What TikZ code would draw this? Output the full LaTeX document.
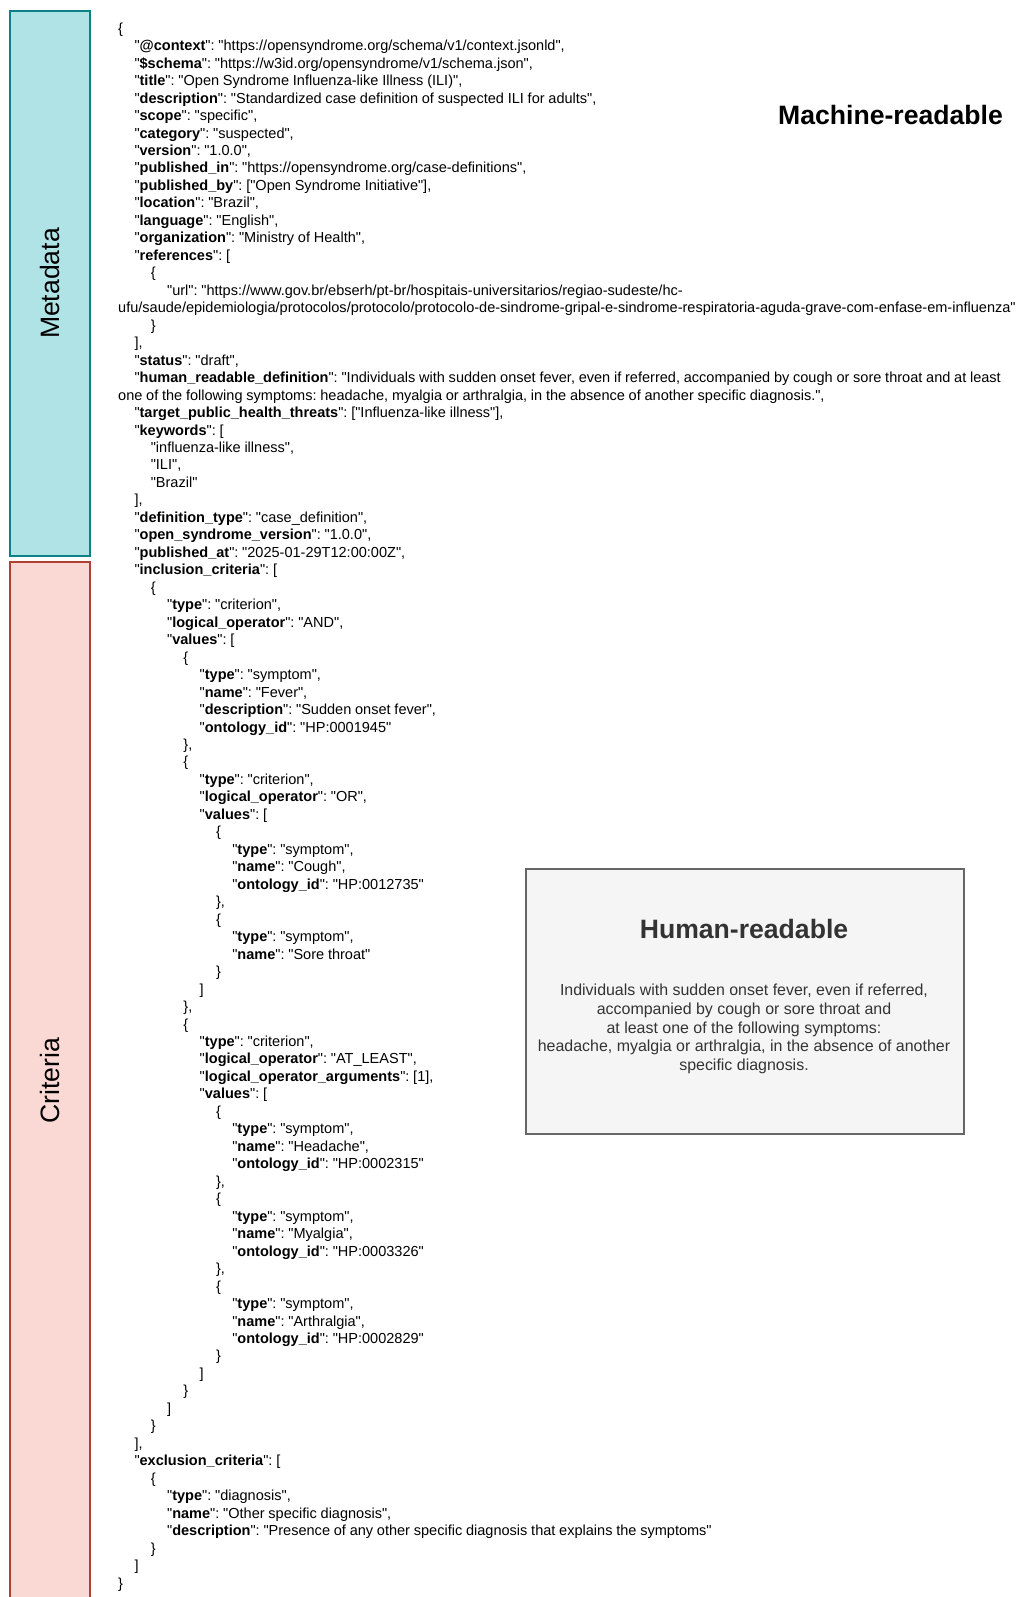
\documentclass[tikz,border=0pt]{standalone}
\usepackage{fontspec}
\setmainfont{Liberation Sans}[Ligatures=TeXOff]
\usepackage{xcolor}
\definecolor{MetaFill}{HTML}{B0E3E6}
\definecolor{MetaLine}{HTML}{0E8088}
\definecolor{CritFill}{HTML}{FAD9D5}
\definecolor{CritLine}{HTML}{AE4132}
\definecolor{HumanFill}{HTML}{F5F5F5}
\definecolor{HumanLine}{HTML}{666666}
\definecolor{HumanText}{HTML}{333333}
\usetikzlibrary{positioning}
\frenchspacing

\newlength{\jsonindent}
\setlength{\jsonindent}{16.3pt}
\newcommand{\jkey}[1]{"\textbf{#1}"}
\newcommand{\lvl}[1]{\hspace*{#1\jsonindent}}

\tikzset{
  sectionbox/.style={draw, line width=1.2pt, rotate=90, minimum height=80pt,
    inner sep=0pt, font=\fontsize{26.6}{32}\selectfont},
  jsontext/.style={text width=1010pt, align=left, inner sep=0pt,
    font=\fontsize{14.53}{17.47}\selectfont},
  headline/.style={font=\fontsize{26.6}{32}\selectfont\bfseries, inner sep=0pt}
}

\begin{document}
\begin{tikzpicture}[x=1pt, y=-1pt]
    \useasboundingbox (0,0) rectangle (1018,1597);
    \begin{scope}
        \clip (0,0) rectangle (1018,1597);
        % side bands
        \node[sectionbox, fill=MetaFill, draw=MetaLine, minimum width=545pt] (metadata) at (50,283.5) {Metadata};
        \node[sectionbox, fill=CritFill, draw=CritLine, minimum width=1038pt] (criteria) at (50,1081) {Criteria};
    \end{scope}

    \node[headline] (machine) at (890.5,115) {Machine-readable};

    % the json document
    \node[jsontext, anchor=north west] (json) at (118,20.8) {%
\setlength{\spaceskip}{3.78pt}\strut\{\\
\lvl1\jkey{@context}: "https://opensyndrome.org/schema/v1/context.jsonld",\\
\lvl1\jkey{\$schema}: "https://w3id.org/opensyndrome/v1/schema.json",\\
\lvl1\jkey{title}: "Open Syndrome Influenza-like Illness (ILI)",\\
\lvl1\jkey{description}: "Standardized case definition of suspected ILI for adults",\\
\lvl1\jkey{scope}: "specific",\\
\lvl1\jkey{category}: "suspected",\\
\lvl1\jkey{version}: "1.0.0",\\
\lvl1\jkey{published\_in}: "https://opensyndrome.org/case-definitions",\\
\lvl1\jkey{published\_by}: ["Open Syndrome Initiative"],\\
\lvl1\jkey{location}: "Brazil",\\
\lvl1\jkey{language}: "English",\\
\lvl1\jkey{organization}: "Ministry of Health",\\
\lvl1\jkey{references}: [\\
\lvl2\{\\
\lvl3"url": "https://www.gov.br/ebserh/pt-br/hospitais-universitarios/regiao-sudeste/hc-\\
ufu/saude/epidemiologia/protocolos/protocolo/protocolo-de-sindrome-gripal-e-sindrome-respiratoria-aguda-grave-com-enfase-em-influenza"\\
\lvl2\}\\
\lvl1],\\
\lvl1\jkey{status}: "draft",\\
\lvl1\jkey{human\_readable\_definition}: "Individuals with sudden onset fever, even if referred, accompanied by cough or sore throat and at least\\
one of the following symptoms: headache, myalgia or arthralgia, in the absence of another specific diagnosis.",\\
\lvl1\jkey{target\_public\_health\_threats}: ["Influenza-like illness"],\\
\lvl1\jkey{keywords}: [\\
\lvl2"influenza-like illness",\\
\lvl2"ILI",\\
\lvl2"Brazil"\\
\lvl1],\\
\lvl1\jkey{definition\_type}: "case\_definition",\\
\lvl1\jkey{open\_syndrome\_version}: "1.0.0",\\
\lvl1\jkey{published\_at}: "2025-01-29T12:00:00Z",\\
\lvl1\jkey{inclusion\_criteria}: [\\
\lvl2\{\\
\lvl3\jkey{type}: "criterion",\\
\lvl3\jkey{logical\_operator}: "AND",\\
\lvl3\jkey{values}: [\\
\lvl4\{\\
\lvl5\jkey{type}: "symptom",\\
\lvl5\jkey{name}: "Fever",\\
\lvl5\jkey{description}: "Sudden onset fever",\\
\lvl5\jkey{ontology\_id}: "HP:0001945"\\
\lvl4\},\\
\lvl4\{\\
\lvl5\jkey{type}: "criterion",\\
\lvl5\jkey{logical\_operator}: "OR",\\
\lvl5\jkey{values}: [\\
\lvl6\{\\
\lvl7\jkey{type}: "symptom",\\
\lvl7\jkey{name}: "Cough",\\
\lvl7\jkey{ontology\_id}: "HP:0012735"\\
\lvl6\},\\
\lvl6\{\\
\lvl7\jkey{type}: "symptom",\\
\lvl7\jkey{name}: "Sore throat"\\
\lvl6\}\\
\lvl5]\\
\lvl4\},\\
\lvl4\{\\
\lvl5\jkey{type}: "criterion",\\
\lvl5\jkey{logical\_operator}: "AT\_LEAST",\\
\lvl5\jkey{logical\_operator\_arguments}: [1],\\
\lvl5\jkey{values}: [\\
\lvl6\{\\
\lvl7\jkey{type}: "symptom",\\
\lvl7\jkey{name}: "Headache",\\
\lvl7\jkey{ontology\_id}: "HP:0002315"\\
\lvl6\},\\
\lvl6\{\\
\lvl7\jkey{type}: "symptom",\\
\lvl7\jkey{name}: "Myalgia",\\
\lvl7\jkey{ontology\_id}: "HP:0003326"\\
\lvl6\},\\
\lvl6\{\\
\lvl7\jkey{type}: "symptom",\\
\lvl7\jkey{name}: "Arthralgia",\\
\lvl7\jkey{ontology\_id}: "HP:0002829"\\
\lvl6\}\\
\lvl5]\\
\lvl4\}\\
\lvl3]\\
\lvl2\}\\
\lvl1],\\
\lvl1\jkey{exclusion\_criteria}: [\\
\lvl2\{\\
\lvl3\jkey{type}: "diagnosis",\\
\lvl3\jkey{name}: "Other specific diagnosis",\\
\lvl3\jkey{description}: "Presence of any other specific diagnosis that explains the symptoms"\\
\lvl2\}\\
\lvl1]\\
\}};

    % human readable panel
    \node[draw=HumanLine, fill=HumanFill, line width=1.2pt, minimum width=438pt, minimum height=265pt] (human) at (745,1001.5) {};
    \node[headline, text=HumanText] (humantitle) at (744,929) {Human-readable};
    \node[align=center, text=HumanText, font=\fontsize{15.95}{18.8}\selectfont] (humantext) at (744,1029)
        {Individuals with sudden onset fever, even if referred,\\accompanied by cough or sore throat and\\at least one of the following symptoms:\\headache, myalgia or arthralgia, in the absence of another\\specific diagnosis.};
\end{tikzpicture}
\end{document}
